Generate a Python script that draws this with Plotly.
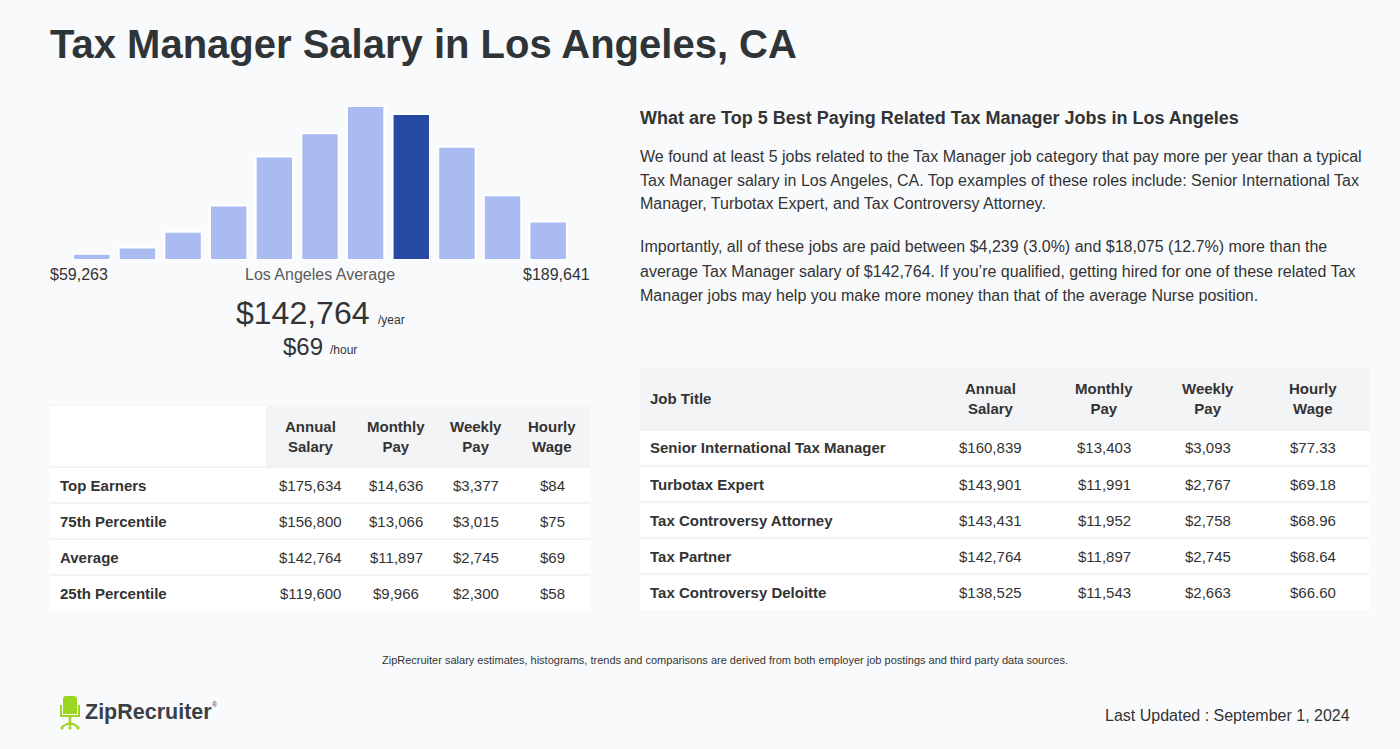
import plotly.graph_objects as go

# ---------------- data ----------------
title = "Tax Manager Salary in Los Angeles, CA"
hist_bins = list(range(11))
hist_values = [6.3, 12.3, 28, 54, 102.3, 125.3, 152.3, 144.3, 112, 64, 38]
highlight_bin = 7
range_low = "$59,263"
range_high = "$189,641"
avg_label = "Los Angeles Average"
avg_year = "$142,764"
avg_hour = "$69"

left_cols = ["Annual<br>Salary", "Monthly<br>Pay", "Weekly<br>Pay", "Hourly<br>Wage"]
left_rows = ["Top Earners", "75th Percentile", "Average", "25th Percentile"]
left_annual = ["$175,634", "$156,800", "$142,764", "$119,600"]
left_monthly = ["$14,636", "$13,066", "$11,897", "$9,966"]
left_weekly = ["$3,377", "$3,015", "$2,745", "$2,300"]
left_hourly = ["$84", "$75", "$69", "$58"]

right_heading = "What are Top 5 Best Paying Related Tax Manager Jobs in Los Angeles"
right_par1 = [
    "We found at least 5 jobs related to the Tax Manager job category that pay more per year than a typical",
    "Tax Manager salary in Los Angeles, CA. Top examples of these roles include: Senior International Tax",
    "Manager, Turbotax Expert, and Tax Controversy Attorney.",
]
right_par2 = [
    "Importantly, all of these jobs are paid between $4,239 (3.0%) and $18,075 (12.7%) more than the",
    "average Tax Manager salary of $142,764. If you\u2019re qualified, getting hired for one of these related Tax",
    "Manager jobs may help you make more money than that of the average Nurse position.",
]
right_cols = ["Annual<br>Salary", "Monthly<br>Pay", "Weekly<br>Pay", "Hourly<br>Wage"]
jobs = ["Senior International Tax Manager", "Turbotax Expert", "Tax Controversy Attorney",
        "Tax Partner", "Tax Controversy Deloitte"]
jobs_annual = ["$160,839", "$143,901", "$143,431", "$142,764", "$138,525"]
jobs_monthly = ["$13,403", "$11,991", "$11,952", "$11,897", "$11,543"]
jobs_weekly = ["$3,093", "$2,767", "$2,758", "$2,745", "$2,663"]
jobs_hourly = ["$77.33", "$69.18", "$68.96", "$68.64", "$66.60"]

footnote = "ZipRecruiter salary estimates, histograms, trends and comparisons are derived from both employer job postings and third party data sources."
updated = "Last Updated : September 1, 2024"

# ---------------- layout helpers ----------------
W, H = 1400, 749
FONT = "Liberation Sans, Arial, Helvetica, sans-serif"
BG = "#f9fafc"
DARK = "#2f3437"
TXT = "#333333"
LIGHT_BAR = "#a9bbf1"
DARK_BAR = "#264aa3"
HEAD_BG = "#f3f4f6"
LINE = "#e6e8eb"
PAD = 2  # annotation inner padding compensation


def px(x):
    return x / W


def py(y):
    return 1 - y / H


annotations = []
shapes = []


def text(x, y, s, size=15, color=TXT, bold=False, xanchor="left", yanchor="middle"):
    if xanchor == "left":
        x -= PAD
    elif xanchor == "right":
        x += PAD
    annotations.append(dict(
        x=px(x), y=py(y), xref="paper", yref="paper", text=f"<b>{s}</b>" if bold else s,
        showarrow=False, xanchor=xanchor, yanchor=yanchor,
        font=dict(family=FONT, size=size, color=color), align="center" if xanchor == "center" else xanchor))


def rect(x0, y0, x1, y1, fill, line=None):
    shapes.append(dict(type="rect", xref="paper", yref="paper", x0=px(x0), x1=px(x1),
                       y0=py(y1), y1=py(y0), fillcolor=fill,
                       line=dict(width=0) if line is None else dict(color=line, width=1),
                       layer="below"))


def hline(x0, x1, y, color=LINE):
    shapes.append(dict(type="line", xref="paper", yref="paper", x0=px(x0), x1=px(x1),
                       y0=py(y), y1=py(y), line=dict(color=color, width=1), layer="below"))


fig = go.Figure()

# ---------------- histogram ----------------
colors = [DARK_BAR if b == highlight_bin else LIGHT_BAR for b in hist_bins]
fig.add_trace(go.Bar(x=hist_bins, y=hist_values, marker=dict(color=colors, line=dict(color="white", width=2)),
                     hoverinfo="skip", showlegend=False))
fig.update_xaxes(domain=[px(69), px(571)], range=[-0.5, 10.5], visible=False)
fig.update_yaxes(domain=[py(260), py(106)], range=[0, max(hist_values)], visible=False)

# ---------------- title ----------------
text(50, 44, title, size=40, color=DARK, bold=True)

# histogram labels
text(50, 275, range_low, size=16)
text(590, 275, range_high, size=16, xanchor="right")
text(320, 275, avg_label, size=16, color="#5a5a5a", xanchor="center")
text(369, 313, avg_year, size=32, xanchor="right")
text(378, 320, "/year", size=12, xanchor="left")
text(323, 346, avg_hour, size=24, xanchor="right")
text(330, 350, "/hour", size=12, xanchor="left")

# ---------------- left table ----------------
LX0, LX1, LGX = 50, 590, 266
LH0, LH1, LROW = 405, 467, 36
lcol_x = [310, 396, 476, 552]
rect(LX0, LH0, LGX, LH1, "white")
rect(LGX, LH0, LX1, LH1, HEAD_BG)
hline(LX0, LGX, LH0, "#eef0f2")
for cx, c in zip(lcol_x, left_cols):
    text(cx, (LH0 + LH1) / 2, c, size=15, bold=True, xanchor="center")
left_vals = [left_annual, left_monthly, left_weekly, left_hourly]
for i, rname in enumerate(left_rows):
    y0 = LH1 + i * LROW
    rect(LX0, y0, LX1, y0 + LROW, "white")
    hline(LX0, LX1, y0)
    text(60, y0 + LROW / 2, rname, size=15, bold=True)
    for cx, vals in zip(lcol_x, left_vals):
        text(cx, y0 + LROW / 2, vals[i], size=15, xanchor="center")

# ---------------- right text ----------------
text(640, 118, right_heading, size=18, bold=True)
for j, line in enumerate(right_par1):
    text(640, 156 + 24 * j, line, size=16)
for j, line in enumerate(right_par2):
    text(640, 247 + 24 * j, line, size=16)

# ---------------- right table ----------------
RX0, RX1 = 640, 1369
RH0, RH1, RROW = 368, 430, 36
rcol_x = [990, 1104, 1208, 1313]
rect(RX0, RH0, RX1, RH1, HEAD_BG)
text(650, (RH0 + RH1) / 2, "Job Title", size=15, bold=True)
for cx, c in zip(rcol_x, right_cols):
    text(cx, (RH0 + RH1) / 2, c, size=15, bold=True, xanchor="center")
right_vals = [jobs_annual, jobs_monthly, jobs_weekly, jobs_hourly]
for i, jname in enumerate(jobs):
    y0 = RH1 + i * RROW
    rect(RX0, y0, RX1, y0 + RROW, "white")
    hline(RX0, RX1, y0)
    text(650, y0 + RROW / 2, jname, size=15, bold=True)
    for cx, vals in zip(rcol_x, right_vals):
        text(cx, y0 + RROW / 2, vals[i], size=15, xanchor="center")

# ---------------- footer ----------------
text(725, 660, footnote, size=11, xanchor="center")
text(1350, 715, updated, size=16, xanchor="right")

# logo: chair icon
LIME = "#9bd51f"
shapes.append(dict(type="path", xref="paper", yref="paper",
                   path=f"M {px(63)},{py(714)} L {px(63)},{py(699)} Q {px(63)},{py(696)} {px(66)},{py(696)} "
                        f"L {px(74)},{py(696)} Q {px(77)},{py(696)} {px(77)},{py(699)} L {px(77)},{py(714)} Z",
                   fillcolor=LIME, line=dict(width=0)))
shapes.append(dict(type="path", xref="paper", yref="paper",
                   path=f"M {px(61)},{py(705)} L {px(61)},{py(716)} L {px(79)},{py(716)} L {px(79)},{py(705)}",
                   line=dict(color=LIME, width=2)))
shapes.append(dict(type="line", xref="paper", yref="paper", x0=px(70), x1=px(70), y0=py(716), y1=py(726),
                   line=dict(color=LIME, width=2.5)))
shapes.append(dict(type="path", xref="paper", yref="paper",
                   path=f"M {px(62)},{py(727)} Q {px(70)},{py(720)} {px(78)},{py(727)}",
                   line=dict(color=LIME, width=2)))
for cx in (62, 70, 78):
    shapes.append(dict(type="circle", xref="paper", yref="paper", x0=px(cx - 1.6), x1=px(cx + 1.6),
                       y0=py(729.5), y1=py(726.3), fillcolor=LIME, line=dict(width=0)))
text(85, 712, "ZipRecruiter", size=21.5, color="#3b4045", bold=True)
text(212, 704, "\u00ae", size=7, color="#3b4045")

fig.update_layout(
    width=W, height=H, margin=dict(l=0, r=0, t=0, b=0),
    paper_bgcolor=BG, plot_bgcolor="rgba(0,0,0,0)",
    bargap=0.18, annotations=annotations, shapes=shapes,
    font=dict(family=FONT),
)

fig.write_html("out.html", config={"displayModeBar": False},
               post_script="document.body.style.margin='0';document.body.style.overflow='hidden';")
